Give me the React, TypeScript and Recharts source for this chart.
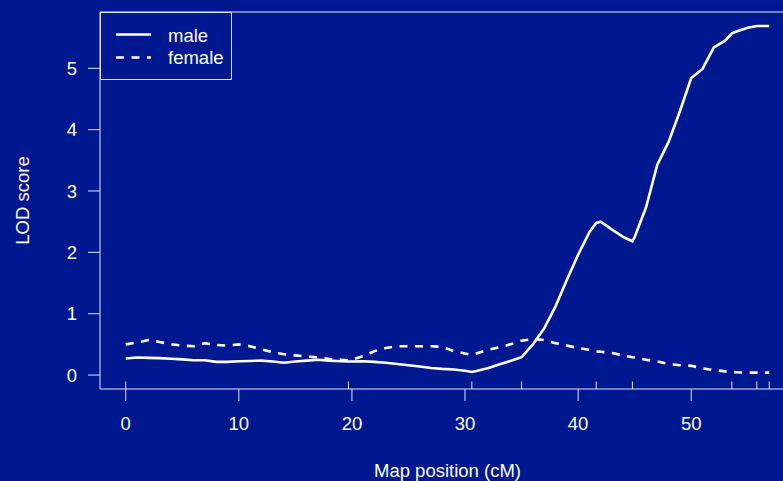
import { LineChart, Line, XAxis, YAxis, ReferenceArea, ReferenceLine, Legend } from "recharts";

// map positions (cM) of the grid, markers included
const POSITIONS = [
  0, 1, 2, 3, 4, 5, 6, 7, 8, 9, 10, 11, 12, 13, 14, 15, 16, 17, 18, 19, 19.7, 20,
  21, 22, 23, 24, 25, 26, 27, 28, 29, 30, 30.6, 31, 32, 33, 34, 35, 36, 37, 38, 39,
  40, 41, 41.6, 42, 43, 44, 44.8, 45, 46, 47, 48, 49, 50, 51, 52, 53, 53.6, 54, 55,
  55.8, 56, 56.9,
];

const MALE = [
  0.27, 0.285, 0.28, 0.275, 0.265, 0.255, 0.24, 0.24, 0.215, 0.215, 0.225, 0.23, 0.235,
  0.22, 0.2, 0.22, 0.235, 0.25, 0.235, 0.225, 0.22, 0.22, 0.225, 0.215, 0.2, 0.18, 0.16,
  0.14, 0.115, 0.1, 0.09, 0.07, 0.05, 0.065, 0.11, 0.17, 0.23, 0.29, 0.5, 0.76, 1.12,
  1.55, 1.96, 2.33, 2.48, 2.5, 2.37, 2.25, 2.18, 2.25, 2.73, 3.43, 3.8, 4.3, 4.84, 4.99,
  5.34, 5.45, 5.57, 5.6, 5.66, 5.69, 5.69, 5.69,
];

const FEMALE = [
  0.5, 0.53, 0.57, 0.54, 0.5, 0.48, 0.47, 0.52, 0.49, 0.48, 0.5, 0.47, 0.42, 0.37, 0.34,
  0.32, 0.3, 0.29, 0.26, 0.25, 0.24, 0.25, 0.31, 0.39, 0.44, 0.47, 0.47, 0.47, 0.47, 0.46,
  0.39, 0.35, 0.33, 0.35, 0.41, 0.45, 0.5, 0.56, 0.585, 0.57, 0.52, 0.48, 0.44, 0.41,
  0.385, 0.38, 0.36, 0.32, 0.29, 0.285, 0.25, 0.22, 0.18, 0.16, 0.15, 0.11, 0.08, 0.06,
  0.05, 0.045, 0.04, 0.04, 0.04, 0.04,
];

const MARKERS = [0, 19.7, 30.6, 35, 41.6, 44.8, 53.6, 55.8, 56.9];
const X_TICKS = [0, 10, 20, 30, 40, 50];
const Y_TICKS = [0, 1, 2, 3, 4, 5];
const SERIES = [
  { key: "male", label: "male", dash: undefined },
  { key: "female", label: "female", dash: "8 7.5" },
];

const data = POSITIONS.map((pos, i) => ({ pos, male: MALE[i], female: FEMALE[i] }));

// R-style 4% axis extension
const xMax = Math.max(...POSITIONS);
const yMax = Math.max(...MALE, ...FEMALE);
const X_DOMAIN = [-0.04 * xMax, xMax * 1.04];
const Y_DOMAIN = [-0.04 * yMax, yMax * 1.04];
const RUG = 0.02 * (Y_DOMAIN[1] - Y_DOMAIN[0]);

const BG = "#00188F";
const FG = "#FFFFFF";
const AX = "#E4E4F0";
const FONT = "'Liberation Sans', Arial, Helvetica, sans-serif";
const FS = 18.5;

const XTitle = ({ viewBox }: any) => (
  <text x={viewBox.x + viewBox.width / 2} y={477} textAnchor="middle" fill={FG} fontSize={FS} fontFamily={FONT}>
    Map position (cM)
  </text>
);

const YTitle = ({ viewBox }: any) => {
  const cx = viewBox.x + 28.5;
  const cy = viewBox.y + viewBox.height / 2;
  return (
    <text x={cx} y={cy} transform={`rotate(-90, ${cx}, ${cy})`} textAnchor="middle" fill={FG} fontSize={FS} fontFamily={FONT}>
      LOD score
    </text>
  );
};

const LegendBox = () => (
  <svg width={132} height={68} style={{ display: "block" }}>
    <rect x={0.5} y={0.5} width={131} height={67} fill={BG} stroke={AX} strokeWidth={1} />
    {SERIES.map((s, i) => (
      <g key={s.key}>
        <line x1={16} x2={51} y1={22.5 + i * 23} y2={22.5 + i * 23} stroke={FG} strokeWidth={2.6} strokeDasharray={s.dash} />
        <text x={68} y={29.5 + i * 22} fill={FG} fontSize={FS} fontFamily={FONT}>
          {s.label}
        </text>
      </g>
    ))}
  </svg>
);

export default function App() {
  return (
    <div style={{ position: "absolute", left: 0, top: 0, width: 783, height: 481, overflow: "hidden", background: BG }}>
      <LineChart width={800} height={481} data={data} margin={{ top: 12, right: 5, bottom: 0, left: 0 }}>
        <XAxis
          dataKey="pos"
          type="number"
          domain={X_DOMAIN}
          ticks={X_TICKS}
          allowDataOverflow
          height={92}
          axisLine={false}
          tickSize={12}
          tickMargin={16}
          tickLine={{ stroke: AX }}
          tick={{ fill: FG, fontSize: FS, fontFamily: FONT }}
          label={<XTitle />}
        />
        <YAxis
          type="number"
          domain={Y_DOMAIN}
          ticks={Y_TICKS}
          allowDataOverflow
          width={100}
          axisLine={false}
          tickSize={12}
          tickMargin={11}
          tickLine={{ stroke: AX }}
          tick={{ fill: FG, fontSize: FS, fontFamily: FONT }}
          label={<YTitle />}
        />
        <ReferenceArea
          x1={X_DOMAIN[0]}
          x2={X_DOMAIN[1]}
          y1={Y_DOMAIN[0]}
          y2={Y_DOMAIN[1]}
          fill="none"
          stroke={AX}
          strokeWidth={1}
          ifOverflow="visible"
        />
        {MARKERS.map((m) => (
          <ReferenceLine
            key={m}
            segment={[
              { x: m, y: Y_DOMAIN[0] },
              { x: m, y: Y_DOMAIN[0] + RUG },
            ]}
            stroke={AX}
            strokeWidth={1}
            ifOverflow="visible"
          />
        ))}
        {SERIES.map((s) => (
          <Line
            key={s.key}
            dataKey={s.key}
            name={s.label}
            stroke={FG}
            strokeWidth={2.6}
            strokeDasharray={s.dash}
            dot={false}
            activeDot={false}
            isAnimationActive={false}
          />
        ))}
        <Legend
          layout="vertical"
          align="center"
          verticalAlign="middle"
          wrapperStyle={{ left: 100, top: 12, width: 132, height: 68 }}
          content={() => <LegendBox />}
        />
      </LineChart>
    </div>
  );
}
